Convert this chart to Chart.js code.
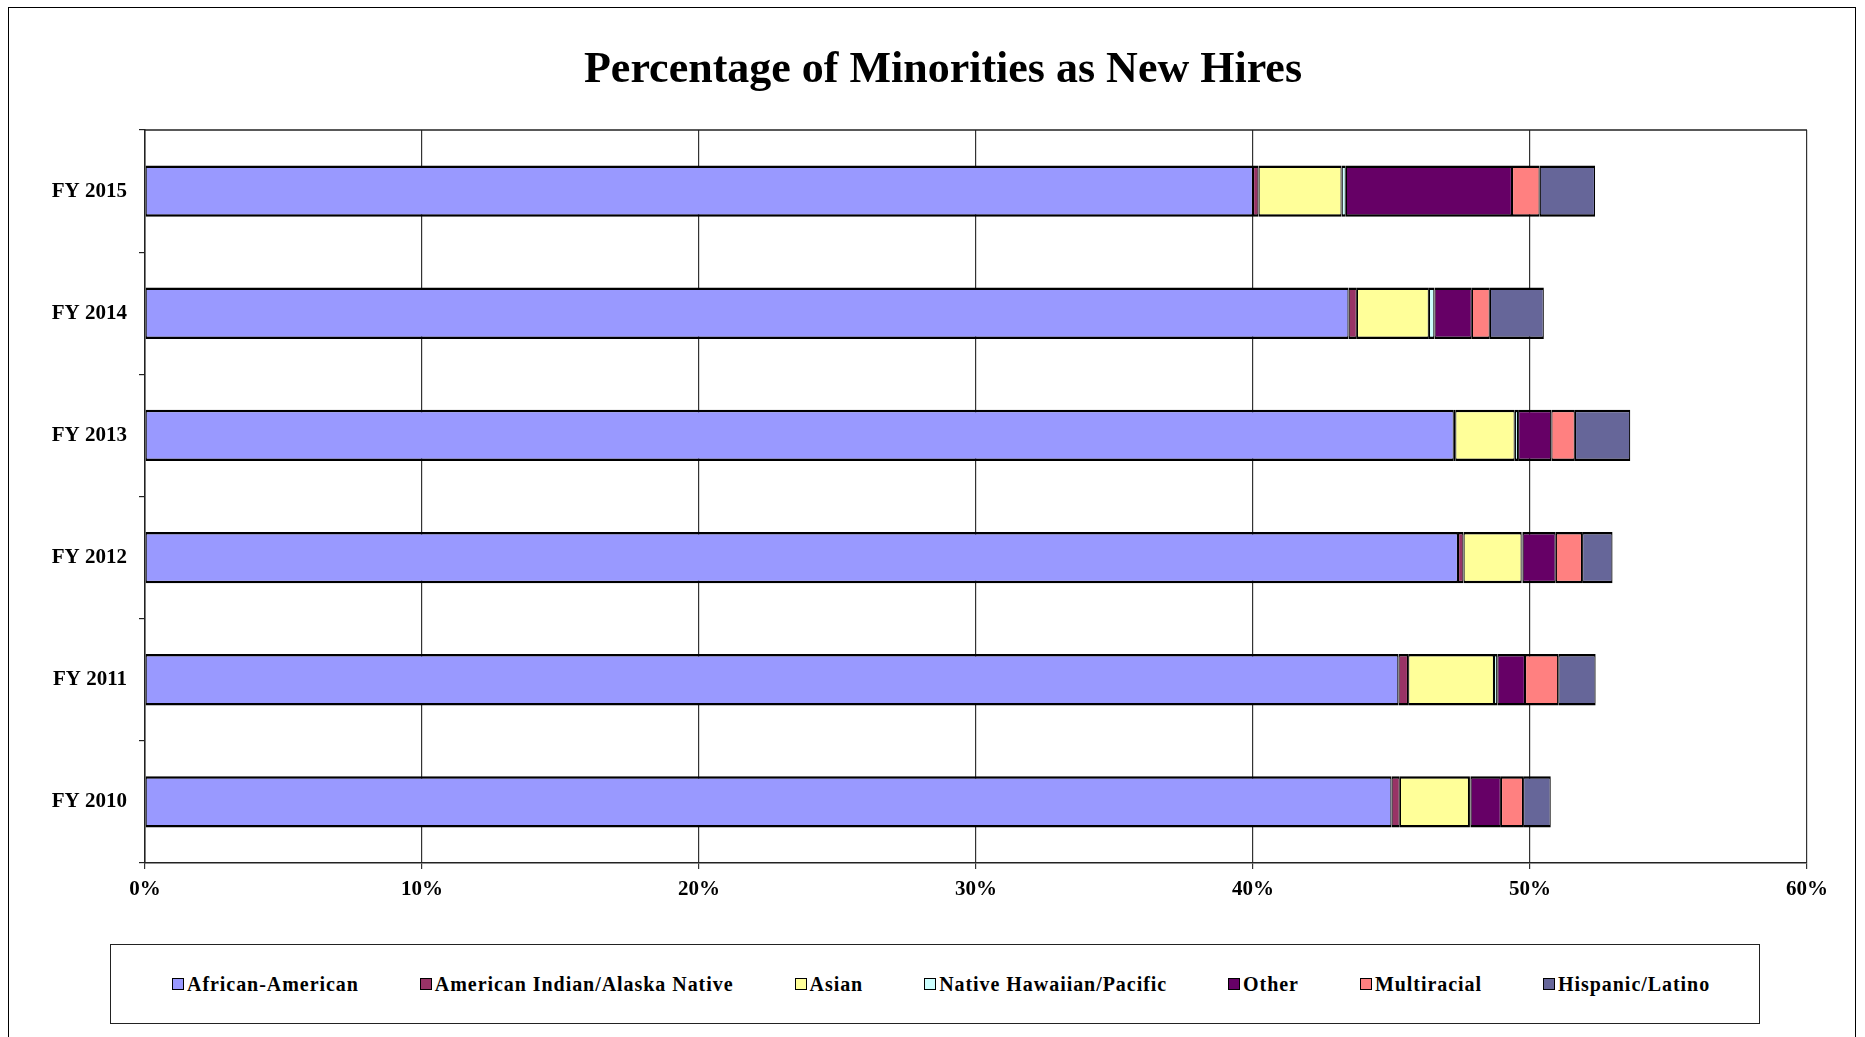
<!DOCTYPE html>
<html>
<head>
<meta charset="utf-8">
<title>Percentage of Minorities as New Hires</title>
<script src="https://cdn.jsdelivr.net/npm/chart.js@4.4.1/dist/chart.umd.min.js"></script>
<style>
  html, body { margin: 0; padding: 0; background: #fff; overflow: hidden; }
  #wrap { position: relative; width: 1865px; height: 1037px; }
  #frame {
    position: absolute; left: 8px; top: 7px; width: 1848px; height: 1060px;
    border: 1.5px solid #000; box-sizing: border-box; pointer-events: none;
  }
  canvas { position: absolute; left: 0; top: 0; }
  #title {
    position: absolute; left: 0; top: 40px; width: 1886px; margin: 0;
    text-align: center; line-height: 56px;
    font-family: "Liberation Serif", "Times New Roman", serif;
    font-weight: bold; font-size: 44px; color: #000;
  }
  #legend {
    position: absolute; left: 110px; top: 944px; width: 1650px; height: 80px;
    border: 1.5px solid #222; box-sizing: border-box; background: #fff;
    display: flex; align-items: center; padding-left: 61px; gap: 61px;
    font-family: "Liberation Serif", "Times New Roman", serif;
    font-weight: bold; font-size: 20px; letter-spacing: 0.95px; color: #000;
  }
  .legend-item { display: flex; align-items: center; white-space: nowrap; }
  .swatch {
    width: 12px; height: 12px; border: 1.5px solid #000; box-sizing: border-box;
    margin-right: 3px;
  }
</style>
</head>
<body>
<div id="wrap">
  <canvas id="chart" width="1865" height="1037"></canvas>
  <div id="frame"></div>
  <h1 id="title">Percentage of Minorities as New Hires</h1>
  <div id="legend"></div>
</div>
<script>
// Fiscal years, top to bottom
const years = ['FY 2015', 'FY 2014', 'FY 2013', 'FY 2012', 'FY 2011', 'FY 2010'];

// Share of new hires (%) per group, same order as years
const africanAmerican = [40.0, 43.45, 47.25, 47.4, 45.25, 45.0];
const americanIndian  = [0.2, 0.3, 0.05, 0.2, 0.35, 0.3];
const asian           = [3.0, 2.6, 2.15, 2.1, 3.1, 2.5];
const nativeHawaiian  = [0.15, 0.2, 0.12, 0.03, 0.12, 0.05];
const other           = [6.0, 1.35, 1.2, 1.2, 1.0, 1.1];
const multiracial     = [1.0, 0.65, 0.85, 0.95, 1.2, 0.8];
const hispanic        = [2.0, 1.95, 2.0, 1.1, 1.35, 1.0];

const xTicks = [0, 10, 20, 30, 40, 50, 60];

const FONT = '"Liberation Serif", "Times New Roman", serif';

const series = [
  { label: 'African-American', data: africanAmerican, color: '#9999FF' },
  { label: 'American Indian/Alaska Native', data: americanIndian, color: '#993366' },
  { label: 'Asian', data: asian, color: '#FFFF99' },
  { label: 'Native Hawaiian/Pacific', data: nativeHawaiian, color: '#CCFFFF' },
  { label: 'Other', data: other, color: '#660066' },
  { label: 'Multiracial', data: multiracial, color: '#FF8080' },
  { label: 'Hispanic/Latino', data: hispanic, color: '#666699' }
];

// Plot frame: top edge line (right edge is the 60% gridline)
const plotBorder = {
  id: 'plotBorder',
  afterDatasetsDraw(chart) {
    const { ctx, chartArea } = chart;
    ctx.save();
    ctx.strokeStyle = '#222';
    ctx.lineWidth = 1.5;
    ctx.beginPath();
    ctx.moveTo(chartArea.left, chartArea.top);
    ctx.lineTo(chartArea.right, chartArea.top);
    ctx.stroke();
    ctx.restore();
  }
};

const chart = new Chart(document.getElementById('chart'), {
  type: 'bar',
  data: {
    labels: years,
    datasets: series.map(s => ({
      label: s.label,
      data: s.data,
      backgroundColor: s.color,
      borderColor: '#000',
      borderWidth: { top: 2.5, bottom: 2.5, left: 1.2, right: 1.2 },
      borderSkipped: false,
      barPercentage: 0.42,
      categoryPercentage: 1.0
    }))
  },
  options: {
    indexAxis: 'y',
    responsive: false,
    animation: false,
    devicePixelRatio: 1,
    layout: { padding: { left: 0, right: 58, top: 130, bottom: 0 } },
    plugins: {
      legend: { display: false },
      tooltip: { enabled: false },
      title: { display: false }
    },
    scales: {
      x: {
        stacked: true,
        min: 0,
        max: 60,
        afterBuildTicks: scale => {
          scale.ticks = xTicks.map(v => ({ value: v }));
        },
        afterFit: scale => { scale.height = 174; },
        ticks: {
          color: '#000',
          padding: 8,
          font: { family: FONT, size: 21, weight: 'bold' },
          callback: v => v + '%'
        },
        grid: { color: '#333', lineWidth: 1.2, tickLength: 6 },
        border: { color: '#222', width: 1.5 }
      },
      y: {
        stacked: true,
        afterFit: scale => { scale.width = 145; },
        ticks: {
          color: '#000',
          padding: 12,
          font: { family: FONT, size: 21, weight: 'bold' }
        },
        grid: { drawOnChartArea: false, color: '#222', lineWidth: 1.2, tickLength: 6, offset: true },
        border: { color: '#222', width: 1.5 }
      }
    }
  },
  plugins: [plotBorder]
});

// Legend box below the plot, built from the datasets
const legendEl = document.getElementById('legend');
legendEl.innerHTML = chart.data.datasets.map(ds => `
  <div class="legend-item">
    <div class="swatch" style="background:${ds.backgroundColor}"></div>
    <span>${ds.label}</span>
  </div>
`).join('');
</script>
</body>
</html>
